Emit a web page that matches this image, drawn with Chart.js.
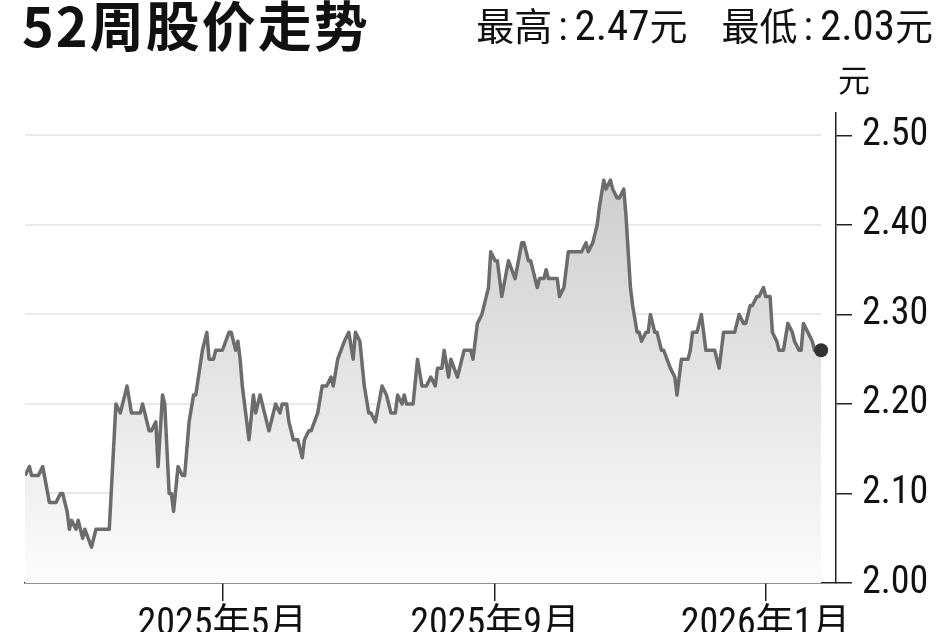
<!DOCTYPE html>
<html>
<head>
<meta charset="utf-8">
<script src="https://cdn.jsdelivr.net/npm/chart.js@4"></script>
<style>
html, body { margin: 0; padding: 0; background: #fff; width: 948px; height: 632px; overflow: hidden; }
#wrap { position: relative; width: 948px; height: 680px; }
canvas { position: absolute; left: 0; top: 0; }
.t { position: absolute; white-space: nowrap; color: #111; line-height: 1; }
#title { left: 22px; top: -16px; font: bold 54px "Noto Sans CJK SC"; letter-spacing: 2px; }
#hilo { right: 15px; top: -4px; font: 38px "Roboto Condensed", "Noto Sans CJK SC"; }
#hilo .n { font-size: 43px; }
#hilo .c { margin: 0 7px 0 6px; font-size: 40px; }
#hilo .g { display: inline-block; width: 34px; }
#unit { left: 838px; top: 55px; font: 32px "Noto Sans CJK SC"; }
</style>
</head>
<body>
<div id="wrap">
  <canvas id="chart" width="948" height="680"></canvas>
  <div class="t" id="title">52周股价走势</div>
  <div class="t" id="hilo">最高<span class="c">:</span><span class="n">2.47</span>元<span class="g"></span>最低<span class="c">:</span><span class="n">2.03</span>元</div>
  <div class="t" id="unit">元</div>
</div>
<script>
// day number counted from 2025-01-01 (day 0)
const days = [
  31, 33, 34, 37, 39, 42, 45, 47, 48, 50,
  51, 52, 54, 55, 57, 58, 61, 63, 69, 72,
  74, 77, 79, 83, 84, 87, 88, 90, 91, 93,
  94, 96, 97, 98, 100, 102, 103, 105, 107, 108,
  111, 113, 114, 116, 117, 120, 123, 124, 126, 127,
  128, 129, 130, 132, 134, 135, 137, 139, 141, 144,
  146, 147, 149, 150, 152, 154, 156, 157, 159, 160,
  163, 165, 167, 169, 170, 172, 175, 177, 179, 180,
  182, 184, 186, 187, 189, 192, 194, 196, 198, 199,
  201, 202, 203, 206, 208, 210, 212, 214, 216, 217,
  219, 220, 222, 223, 226, 229, 232, 233, 235, 237,
  240, 241, 243, 244, 246, 249, 252, 255, 256, 258,
  259, 262, 263, 265, 266, 267, 271, 272, 274, 276,
  282, 284, 285, 287, 289, 290, 292, 293, 295, 296,
  298, 299, 301, 302, 304, 305, 307, 308, 309, 311,
  312, 313, 315, 316, 318, 319, 322, 324, 325, 327,
  328, 330, 331, 332, 334, 336, 338, 342, 344, 346,
  351, 353, 355, 356, 358, 359, 361, 362, 364, 365,
  367, 368, 370, 371, 373, 375, 377, 378, 380, 381,
  382, 384, 386, 387, 390
];
// closing price, 元
const prices = [
  2.12, 2.13, 2.12, 2.12, 2.13, 2.09, 2.09, 2.10, 2.10, 2.08,
  2.06, 2.07, 2.06, 2.07, 2.05, 2.06, 2.04, 2.06, 2.06, 2.20,
  2.19, 2.22, 2.19, 2.19, 2.20, 2.17, 2.17, 2.18, 2.13, 2.21,
  2.20, 2.10, 2.10, 2.08, 2.13, 2.12, 2.12, 2.18, 2.21, 2.21,
  2.26, 2.28, 2.25, 2.25, 2.26, 2.26, 2.28, 2.28, 2.26, 2.27,
  2.25, 2.22, 2.20, 2.16, 2.21, 2.19, 2.21, 2.19, 2.17, 2.20,
  2.19, 2.20, 2.20, 2.18, 2.16, 2.16, 2.14, 2.16, 2.17, 2.17,
  2.19, 2.22, 2.22, 2.23, 2.22, 2.25, 2.27, 2.28, 2.25, 2.28,
  2.27, 2.22, 2.19, 2.19, 2.18, 2.22, 2.21, 2.19, 2.19, 2.21,
  2.20, 2.21, 2.20, 2.20, 2.25, 2.22, 2.22, 2.23, 2.22, 2.24,
  2.24, 2.26, 2.23, 2.25, 2.23, 2.26, 2.26, 2.25, 2.29, 2.30,
  2.33, 2.37, 2.36, 2.36, 2.32, 2.36, 2.34, 2.38, 2.38, 2.36,
  2.36, 2.33, 2.34, 2.34, 2.35, 2.34, 2.34, 2.32, 2.33, 2.37,
  2.37, 2.38, 2.37, 2.38, 2.40, 2.42, 2.45, 2.44, 2.45, 2.44,
  2.43, 2.43, 2.44, 2.41, 2.33, 2.31, 2.28, 2.28, 2.27, 2.28,
  2.28, 2.30, 2.28, 2.28, 2.26, 2.26, 2.24, 2.23, 2.21, 2.25,
  2.25, 2.25, 2.26, 2.28, 2.28, 2.30, 2.26, 2.26, 2.24, 2.28,
  2.28, 2.30, 2.29, 2.29, 2.31, 2.31, 2.32, 2.32, 2.33, 2.32,
  2.32, 2.28, 2.27, 2.26, 2.26, 2.29, 2.28, 2.27, 2.26, 2.26,
  2.29, 2.28, 2.27, 2.26, 2.26
];
const tickDays = [120, 243, 365]; // 2025-05-01, 2025-09-01, 2026-01-01
const tickLabels = ['2025年5月', '2025年9月', '2026年1月'];
const yTicks = [2.00, 2.10, 2.20, 2.30, 2.40, 2.50];

const points = days.map((d, i) => ({ x: d, y: prices[i] }));
const lastIdx = points.length - 1;
const tickFont = { family: '"Roboto Condensed", "Noto Sans CJK SC"', size: 38 };

// light grid lines that stop where the price line ends
const gridToLastPoint = {
  id: 'gridToLastPoint',
  beforeDatasetsDraw(chart) {
    const { ctx, chartArea, scales } = chart;
    const xEnd = scales.x.getPixelForValue(days[lastIdx]);
    ctx.save();
    ctx.strokeStyle = '#e9e9e9';
    ctx.lineWidth = 2;
    for (const v of yTicks) {
      if (v === yTicks[0]) continue;
      const y = Math.round(scales.y.getPixelForValue(v));
      ctx.beginPath();
      ctx.moveTo(chartArea.left, y);
      ctx.lineTo(xEnd, y);
      ctx.stroke();
    }
    ctx.restore();
  }
};

new Chart(document.getElementById('chart'), {
  type: 'line',
  data: {
    datasets: [{
      data: points,
      borderColor: '#6c6c6c',
      borderWidth: 3.5,
      borderJoinStyle: 'round',
      tension: 0,
      fill: 'start',
      backgroundColor: (c) => {
        const area = c.chart.chartArea;
        if (!area) return 'rgba(0,0,0,0)';
        const g = c.chart.ctx.createLinearGradient(0, area.top, 0, area.bottom);
        g.addColorStop(0, '#c6c6c6');
        g.addColorStop(1, '#fcfcfc');
        return g;
      },
      pointRadius: (c) => (c.dataIndex === lastIdx ? 7 : 0),
      pointBackgroundColor: '#333',
      pointBorderWidth: 0,
      pointHoverRadius: 0
    }]
  },
  options: {
    responsive: false,
    animation: false,
    devicePixelRatio: 1,
    layout: { padding: { left: 25, top: 113, right: 0, bottom: 0 } },
    plugins: { legend: { display: false }, tooltip: { enabled: false } },
    scales: {
      x: {
        type: 'linear',
        min: 31,
        max: 396.7,
        afterBuildTicks: (s) => { s.ticks = tickDays.map(v => ({ value: v })); },
        afterFit: (s) => { s.height = 97; },
        ticks: {
          callback: (v) => tickLabels[tickDays.indexOf(v)],
          font: tickFont,
          color: '#111',
          padding: 2,
          maxRotation: 0,
          autoSkip: false
        },
        grid: { drawOnChartArea: false, tickLength: 18, color: '#222', lineWidth: 1.5 },
        border: { color: '#222', width: 1.5 }
      },
      y: {
        position: 'right',
        min: 2.0,
        max: 2.525,
        afterBuildTicks: (s) => { s.ticks = yTicks.map(v => ({ value: v })); },
        afterFit: (s) => { s.width = 112; },
        ticks: {
          callback: (v) => v.toFixed(2),
          font: tickFont,
          color: '#111',
          padding: 10
        },
        grid: { drawOnChartArea: false, tickLength: 16, color: '#222', lineWidth: 1.5 },
        border: { color: '#222', width: 1.5 }
      }
    }
  },
  plugins: [gridToLastPoint]
});
</script>
</body>
</html>
